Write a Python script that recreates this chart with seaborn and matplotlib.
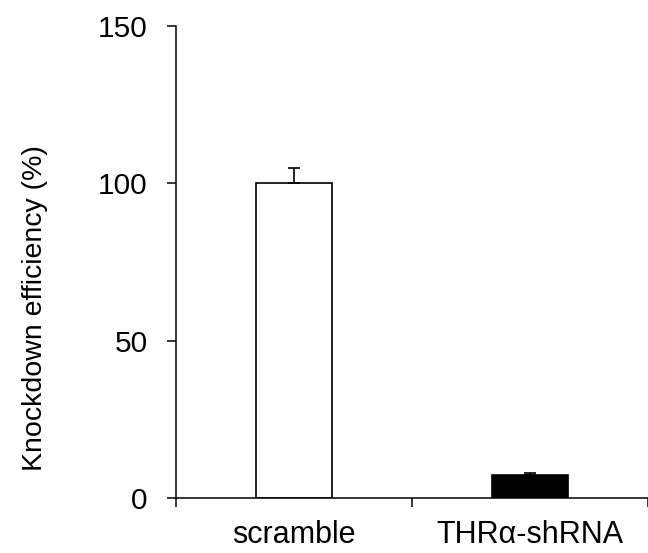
import matplotlib
matplotlib.use("Agg")
import matplotlib.pyplot as plt
import seaborn as sns
import pandas as pd

groups = ["scramble", "THRα-shRNA"]
efficiency = [100.0, 7.5]
sem = [4.9, 0.6]
bar_colors = ["white", "black"]

sns.set_style("ticks")
plt.rcParams["font.family"] = ["Liberation Sans", "DejaVu Sans"]
plt.rcParams["text.color"] = "black"
plt.rcParams["axes.labelcolor"] = "black"
plt.rcParams["xtick.color"] = "black"
plt.rcParams["ytick.color"] = "black"
plt.rcParams["axes.edgecolor"] = "black"

df = pd.DataFrame({"group": groups, "efficiency": efficiency})

fig = plt.figure(figsize=(6.48, 5.53), dpi=100)
ax = fig.add_axes([0.2716, 0.099, 0.7284, 0.854])
sns.barplot(
    data=df, x="group", y="efficiency", hue="group", palette=bar_colors,
    edgecolor="black", linewidth=1.2, width=0.32, errorbar=None,
    legend=False, ax=ax,
)
ax.errorbar(
    range(len(groups)), efficiency, yerr=[[0] * len(sem), sem],
    fmt="none", ecolor="black", elinewidth=1.2, capsize=4, capthick=1.2,
)

ax.set_xlim(-0.5, 1.5)
ax.set_ylim(0, 150)
ax.set_yticks([0, 50, 100, 150])
ax.set_xticks([-0.5, 0.5, 1.5], minor=True)
ax.tick_params(axis="x", which="major", length=0, pad=16, labelsize=22)
ax.tick_params(axis="x", which="minor", length=6.5, width=1.1, direction="out")
ax.tick_params(axis="y", length=6.5, width=1.1, pad=14, labelsize=21.5)
ax.set_xlabel("")
ax.set_ylabel("Knockdown efficiency (%)", fontsize=20.5)
ax.yaxis.set_label_coords(-0.272, 0.403)
sns.despine(ax=ax)
for side in ["left", "bottom"]:
    ax.spines[side].set_linewidth(1.1)

fig.savefig("out.png", dpi=100)
plt.close(fig)
